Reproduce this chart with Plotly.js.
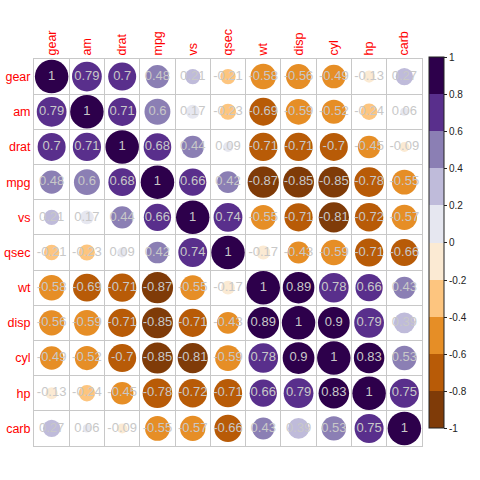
<!DOCTYPE html>
<html>
<head>
<meta charset="utf-8">
<script src="https://cdn.plot.ly/plotly-3.0.1.min.js"></script>
<style>html,body{margin:0;padding:0;background:#fff}#chart{width:480px;height:480px}</style>
</head>
<body>
<div id="chart"></div>
<script>
// Variables (row / column order)
const variables = ["gear","am","drat","mpg","vs","qsec","wt","disp","cyl","hp","carb"];

// Correlation rows
const gearRow = [1, 0.79, 0.7, 0.48, 0.21, -0.21, -0.58, -0.56, -0.49, -0.13, 0.27];
const amRow   = [0.79, 1, 0.71, 0.6, 0.17, -0.23, -0.69, -0.59, -0.52, -0.24, 0.06];
const dratRow = [0.7, 0.71, 1, 0.68, 0.44, 0.09, -0.71, -0.71, -0.7, -0.45, -0.09];
const mpgRow  = [0.48, 0.6, 0.68, 1, 0.66, 0.42, -0.87, -0.85, -0.85, -0.78, -0.55];
const vsRow   = [0.21, 0.17, 0.44, 0.66, 1, 0.74, -0.55, -0.71, -0.81, -0.72, -0.57];
const qsecRow = [-0.21, -0.23, 0.09, 0.42, 0.74, 1, -0.17, -0.43, -0.59, -0.71, -0.66];
const wtRow   = [-0.58, -0.69, -0.71, -0.87, -0.55, -0.17, 1, 0.89, 0.78, 0.66, 0.43];
const dispRow = [-0.56, -0.59, -0.71, -0.85, -0.71, -0.43, 0.89, 1, 0.9, 0.79, 0.39];
const cylRow  = [-0.49, -0.52, -0.7, -0.85, -0.81, -0.59, 0.78, 0.9, 1, 0.83, 0.53];
const hpRow   = [-0.13, -0.24, -0.45, -0.78, -0.72, -0.71, 0.66, 0.79, 0.83, 1, 0.75];
const carbRow = [0.27, 0.06, -0.09, -0.55, -0.57, -0.66, 0.43, 0.39, 0.53, 0.75, 1];

// Colorbar ticks
const cbTickVals = [-1, -0.8, -0.6, -0.4, -0.2, 0, 0.2, 0.4, 0.6, 0.8, 1];
const cbTickText = ["-1", "-0.8", "-0.6", "-0.4", "-0.2", "0", "0.2", "0.4", "0.6", "0.8", "1"];

// Palette bins from -1 to 1
const binColors = ["#7F3B08","#B85B07","#E68E26","#FDC57F","#FBEAD3",
                   "#E6E7F0","#BFBBDA","#8B7FB4","#592F8C","#2D004B"];

const matrix = [gearRow, amRow, dratRow, mpgRow, vsRow, qsecRow, wtRow, dispRow, cylRow, hpRow, carbRow];

const xs = [], ys = [], vals = [], absVals = [], labels = [];
matrix.forEach((row, i) => {
  row.forEach((v, j) => {
    xs.push(j); ys.push(i); vals.push(v); absVals.push(Math.abs(v)); labels.push(String(v));
  });
});

const colorscale = [];
binColors.forEach((c, k) => {
  colorscale.push([k / binColors.length, c]);
  colorscale.push([(k + 1) / binColors.length, c]);
});

const font = "Liberation Sans, Arial, Helvetica, sans-serif";
const maxDiam = 33.5;

const circles = {
  type: "scatter", mode: "markers", x: xs, y: ys, hoverinfo: "skip",
  marker: {
    size: absVals, sizemode: "area", sizeref: 2 * 1 / (maxDiam * maxDiam),
    opacity: 1,
    color: vals, cmin: -1, cmax: 1, colorscale: colorscale,
    line: {width: 0},
    colorbar: {
      x: 1.018, xanchor: "left", y: 1.004, yanchor: "top",
      len: 371, lenmode: "pixels", thickness: 15, thicknessmode: "pixels",
      xpad: 0, ypad: 0,
      outlinewidth: 1, outlinecolor: "#222",
      tickmode: "array", tickvals: cbTickVals, ticktext: cbTickText,
      ticks: "outside", ticklen: 3, tickcolor: "#222",
      tickfont: {family: font, size: 10, color: "#222"}
    }
  },
  showlegend: false
};

const texts = {
  type: "scatter", mode: "text", x: xs, y: ys, text: labels, hoverinfo: "skip",
  textposition: "middle center",
  textfont: {family: font, size: 13, color: "#c8c8c8"},
  showlegend: false
};

const idx = variables.map((_, i) => i);
const edges = [-0.5].concat(idx.map(i => i + 0.5));

const axisCommon = {
  tickmode: "array", tickvals: idx, ticktext: variables,
  showgrid: false, zeroline: false, ticks: "",
  tickfont: {family: font, size: 12.5, color: "#ff0000"},
  showline: true, linecolor: "#c8c8c8", linewidth: 1, mirror: true,
  minor: {tickmode: "array", tickvals: edges, showgrid: true, gridcolor: "#c8c8c8", gridwidth: 1, ticks: ""},
  fixedrange: true
};

const layout = {
  width: 480, height: 480,
  margin: {l: 33.5, r: 58, t: 58.5, b: 34},
  paper_bgcolor: "#fff", plot_bgcolor: "#fff",
  xaxis: Object.assign({}, axisCommon, {range: [-0.5, variables.length - 0.5], side: "top", tickangle: -90}),
  yaxis: Object.assign({}, axisCommon, {range: [variables.length - 0.5, -0.5]}),
  showlegend: false
};

Plotly.newPlot("chart", [circles, texts], layout, {displayModeBar: false, staticPlot: true});
</script>
</body>
</html>
